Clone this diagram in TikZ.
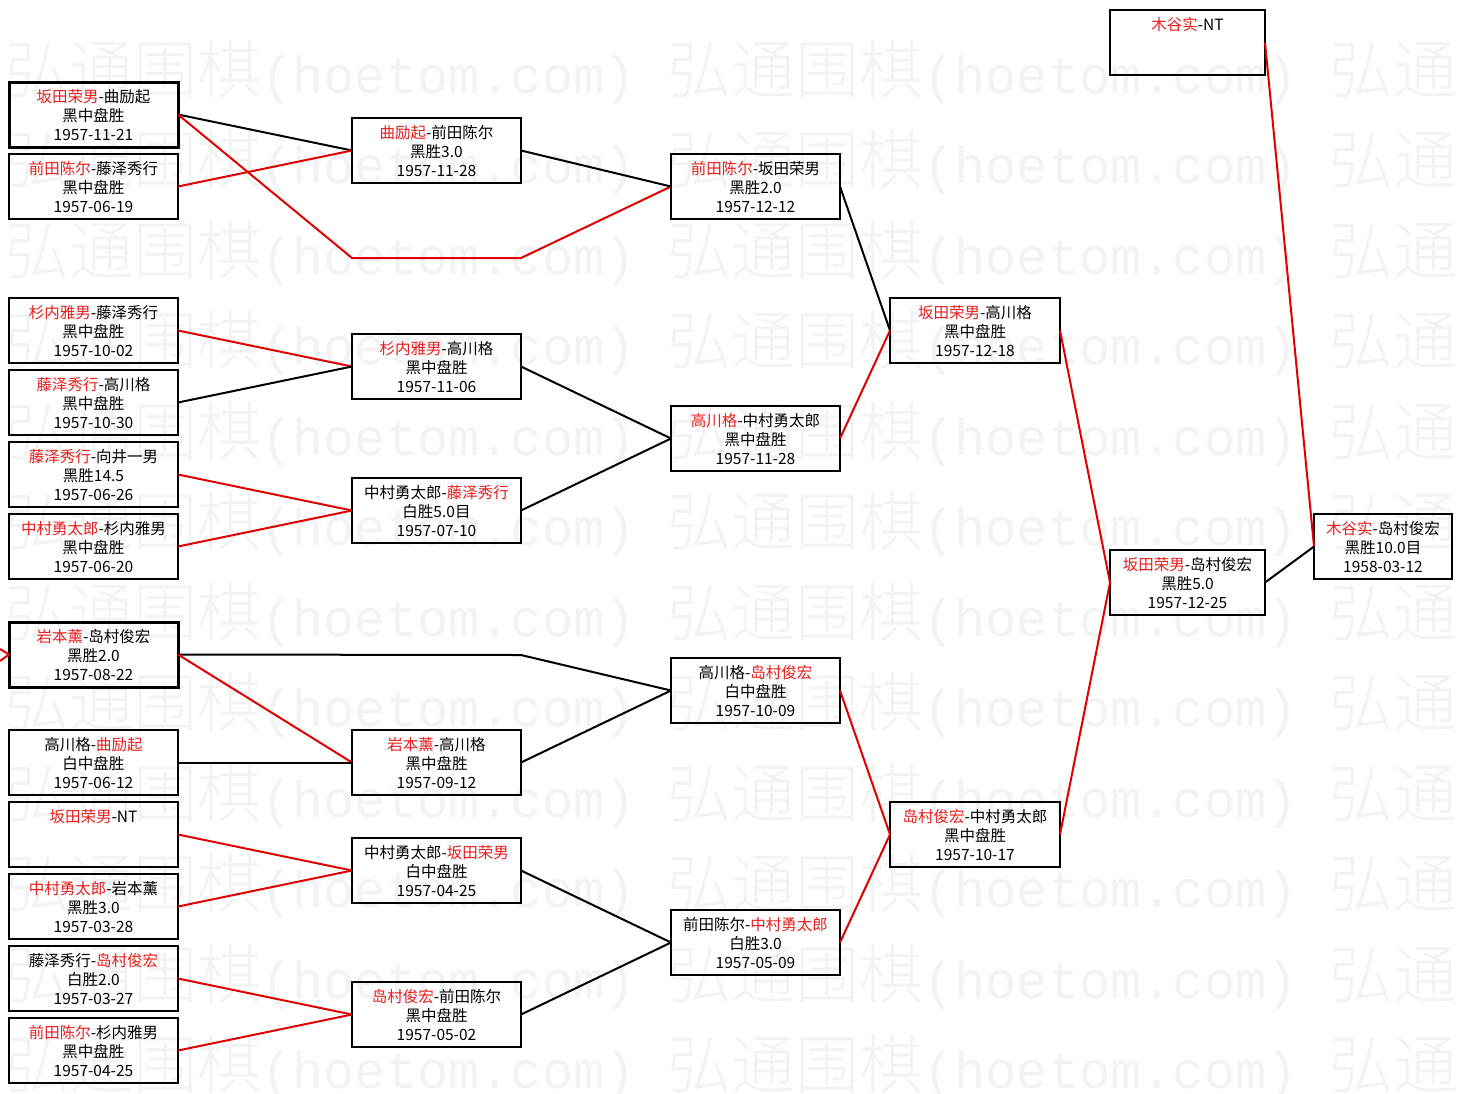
\documentclass[tikz,border=0pt]{standalone}
\usepackage{fontspec}
\setmainfont{Noto Sans CJK SC}
\newfontfamily\wmcjk{Noto Sans CJK SC Light}
\newfontfamily\wmlat{Liberation Mono}
\definecolor{lred}{RGB}{225,0,0}
\definecolor{tred}{RGB}{232,30,30}
\definecolor{wmgray}{RGB}{243,243,243}
\newcommand\redn[1]{\textcolor{tred}{#1}}
\newcommand\bxt[4]{\parbox[c][65pt][t]{#1}{\centering\rule{0pt}{20pt}#2\\#3\\#4}}
\newcommand\bxone[2]{\parbox[c][65pt][t]{#1}{\centering\rule{0pt}{20pt}#2}}
\tikzset{
  gbox/.style={draw, line width=2pt, inner sep=0pt, outer sep=0pt, font=\fontsize{15.5}{19}\selectfont},
  gboxb/.style={gbox, line width=3pt},
  blk/.style={line width=2pt, draw=black},
  rln/.style={line width=2pt, draw=lred},
  wm/.style={text=wmgray, inner sep=0pt, anchor=west}
}
\begin{document}
\begin{tikzpicture}[x=1pt,y=-1pt]
\useasboundingbox (0,0) rectangle (1463,1093);
\fill[white] (0,0) rectangle (1463,1093);
% watermark
\begin{scope}
\clip (0,0) rectangle (1463,1093);
\foreach \k in {0,...,11}{
  \foreach \j in {0,1,2}{
    \node[wm] (wm\k\j) at ({5+662*\j},{72+90.5*\k}) {\wmcjk\fontsize{64}{70}\selectfont 弘通围棋\wmlat\fontsize{52}{60}\selectfont(hoetom.com)};
  }
}
\end{scope}
% boxes column 1
\node[gboxb] (a1) at (93.5,114.5) {\bxt{169pt}{\redn{坂田荣男}-曲励起}{黑中盘胜}{1957-11-21}};
\node[gbox] (a2) at (93.5,186.5) {\bxt{169pt}{\redn{前田陈尔}-藤泽秀行}{黑中盘胜}{1957-06-19}};
\node[gbox] (a3) at (93.5,330.5) {\bxt{169pt}{\redn{杉内雅男}-藤泽秀行}{黑中盘胜}{1957-10-02}};
\node[gbox] (a4) at (93.5,402.5) {\bxt{169pt}{\redn{藤泽秀行}-高川格}{黑中盘胜}{1957-10-30}};
\node[gbox] (a5) at (93.5,474.5) {\bxt{169pt}{\redn{藤泽秀行}-向井一男}{黑胜14.5}{1957-06-26}};
\node[gbox] (a6) at (93.5,546.5) {\bxt{169pt}{\redn{中村勇太郎}-杉内雅男}{黑中盘胜}{1957-06-20}};
\node[gboxb] (a7) at (93.5,654.5) {\bxt{169pt}{\redn{岩本薰}-岛村俊宏}{黑胜2.0}{1957-08-22}};
\node[gbox] (a8) at (93.5,762.5) {\bxt{169pt}{高川格-\redn{曲励起}}{白中盘胜}{1957-06-12}};
\node[gbox] (a9) at (93.5,834.5) {\bxone{169pt}{\redn{坂田荣男}-NT}};
\node[gbox] (a10) at (93.5,906.5) {\bxt{169pt}{\redn{中村勇太郎}-岩本薰}{黑胜3.0}{1957-03-28}};
\node[gbox] (a11) at (93.5,978.5) {\bxt{169pt}{藤泽秀行-\redn{岛村俊宏}}{白胜2.0}{1957-03-27}};
\node[gbox] (a12) at (93.5,1050.5) {\bxt{169pt}{\redn{前田陈尔}-杉内雅男}{黑中盘胜}{1957-04-25}};
% column 2
\node[gbox] (b1) at (436.5,150.5) {\bxt{169pt}{\redn{曲励起}-前田陈尔}{黑胜3.0}{1957-11-28}};
\node[gbox] (b2) at (436.5,366.5) {\bxt{169pt}{\redn{杉内雅男}-高川格}{黑中盘胜}{1957-11-06}};
\node[gbox] (b3) at (436.5,510.5) {\bxt{169pt}{中村勇太郎-\redn{藤泽秀行}}{白胜5.0目}{1957-07-10}};
\node[gbox] (b4) at (436.5,762.5) {\bxt{169pt}{\redn{岩本薰}-高川格}{黑中盘胜}{1957-09-12}};
\node[gbox] (b5) at (436.5,870.5) {\bxt{169pt}{中村勇太郎-\redn{坂田荣男}}{白中盘胜}{1957-04-25}};
\node[gbox] (b6) at (436.5,1014.5) {\bxt{169pt}{\redn{岛村俊宏}-前田陈尔}{黑中盘胜}{1957-05-02}};
% column 3
\node[gbox] (c1) at (755.5,186.5) {\bxt{169pt}{\redn{前田陈尔}-坂田荣男}{黑胜2.0}{1957-12-12}};
\node[gbox] (c2) at (755.5,438.5) {\bxt{169pt}{\redn{高川格}-中村勇太郎}{黑中盘胜}{1957-11-28}};
\node[gbox] (c3) at (755.5,690.5) {\bxt{169pt}{高川格-\redn{岛村俊宏}}{白中盘胜}{1957-10-09}};
\node[gbox] (c4) at (755.5,942.5) {\bxt{169pt}{前田陈尔-\redn{中村勇太郎}}{白胜3.0}{1957-05-09}};
% column 4
\node[gbox] (d1) at (975,330.5) {\bxt{170pt}{\redn{坂田荣男}-高川格}{黑中盘胜}{1957-12-18}};
\node[gbox] (d2) at (975,834.5) {\bxt{170pt}{\redn{岛村俊宏}-中村勇太郎}{黑中盘胜}{1957-10-17}};
% column 5
\node[gbox] (e1) at (1187.5,42.5) {\bxone{155pt}{\redn{木谷实}-NT}};
\node[gbox] (e2) at (1187.5,582.5) {\bxt{155pt}{\redn{坂田荣男}-岛村俊宏}{黑胜5.0}{1957-12-25}};
% column 6
\node[gbox] (f1) at (1383,546.5) {\bxt{138pt}{\redn{木谷实}-岛村俊宏}{黑胜10.0目}{1958-03-12}};
% helper coordinates
\coordinate (p1) at (352,258);
\coordinate (p2) at (521,258);
\coordinate (q1) at (521,655);
\coordinate (l1) at (0,649);
\coordinate (l2) at (0,661);
% connectors
\draw[blk] (a1.east) -- (b1.west);
\draw[rln] (a1.east) -- (p1) -- (p2) -- (c1.west);
\draw[rln] (a2.east) -- (b1.west);
\draw[blk] (b1.east) -- (c1.west);
\draw[rln] (a3.east) -- (b2.west);
\draw[blk] (a4.east) -- (b2.west);
\draw[rln] (a5.east) -- (b3.west);
\draw[rln] (a6.east) -- (b3.west);
\draw[blk] (b2.east) -- (c2.west);
\draw[blk] (b3.east) -- (c2.west);
\draw[blk] (c1.east) -- (d1.west);
\draw[rln] (c2.east) -- (d1.west);
\draw[blk] (a7.east) -- (q1) -- (c3.west);
\draw[rln] (a7.east) -- (b4.west);
\draw[blk] (a8.east) -- (b4.west);
\draw[blk] (b4.east) -- (c3.west);
\draw[rln] (a9.east) -- (b5.west);
\draw[rln] (a10.east) -- (b5.west);
\draw[rln] (a11.east) -- (b6.west);
\draw[rln] (a12.east) -- (b6.west);
\draw[blk] (b5.east) -- (c4.west);
\draw[blk] (b6.east) -- (c4.west);
\draw[rln] (c3.east) -- (d2.west);
\draw[rln] (c4.east) -- (d2.west);
\draw[rln] (d1.east) -- (e2.west);
\draw[rln] (d2.east) -- (e2.west);
\draw[rln] (e1.east) -- (f1.west);
\draw[blk] (e2.east) -- (f1.west);
\draw[rln] (l1) -- (a7.west);
\draw[rln] (l2) -- (a7.west);
\end{tikzpicture}
\end{document}
